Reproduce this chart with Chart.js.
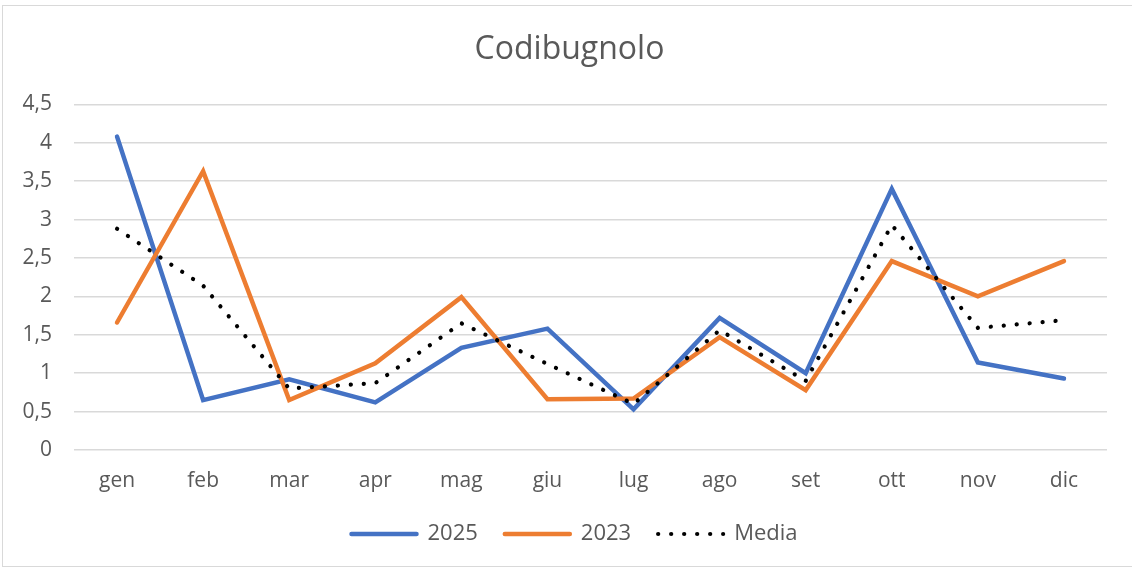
<!DOCTYPE html>
<html>
<head>
<meta charset="utf-8">
<script src="https://cdn.jsdelivr.net/npm/chart.js@4"></script>
<style>
  html, body { margin: 0; padding: 0; background: #fff; }
  #wrap { position: relative; width: 1132px; height: 571px; overflow: hidden; }
  #frame { position: absolute; left: 2px; top: 5px; width: 1140px; height: 562px; border: 1px solid #d9d9d9; box-sizing: border-box; }
  #chart { position: absolute; left: 0; top: 0; }
</style>
</head>
<body>
<div id="wrap">
  <div id="frame"></div>
  <canvas id="chart" width="1132" height="571"></canvas>
</div>
<script>
const months = ['gen', 'feb', 'mar', 'apr', 'mag', 'giu', 'lug', 'ago', 'set', 'ott', 'nov', 'dic'];
const values2025 = [4.08, 0.65, 0.92, 0.62, 1.33, 1.58, 0.53, 1.72, 1.0, 3.4, 1.14, 0.93];
const values2023 = [1.66, 3.63, 0.65, 1.13, 1.99, 0.66, 0.67, 1.47, 0.78, 2.46, 2.0, 2.46];
const valuesMedia = [2.88, 2.14, 0.8, 0.87, 1.65, 1.12, 0.6, 1.56, 0.9, 2.93, 1.59, 1.69];

const FONT = '"Open Sans", "Noto Sans", sans-serif';
const TEXT = '#595959';
const GRID = '#d9d9d9';
const DOTS = [0.1, 12.9];

const canvas = document.querySelector('#chart');
// eslint-disable-next-line no-undef
const baseLabels = Chart.defaults.plugins.legend.labels.generateLabels;

// Excel centres title and legend on the whole chart, not on the plot
const shiftBlocks = {
  id: 'shiftBlocks',
  afterLayout(chart) {
    if (chart.legend) {
      chart.legend.left += 21;
      chart.legend.right += 21;
    }
    if (chart.titleBlock) {
      chart.titleBlock.left += 16;
      chart.titleBlock.right += 16;
    }
  },
};

// eslint-disable-next-line no-undef
new Chart(canvas.getContext('2d'), {
  type: 'line',
  data: {
    labels: months,
    datasets: [
      {
        label: '2025',
        data: values2025,
        borderColor: '#4472c4',
        backgroundColor: '#4472c4',
        borderWidth: 4.5,
        borderCapStyle: 'round',
        pointRadius: 0,
        order: 2,
      },
      {
        label: '2023',
        data: values2023,
        borderColor: '#ed7d31',
        backgroundColor: '#ed7d31',
        borderWidth: 4.5,
        borderCapStyle: 'round',
        pointRadius: 0,
        order: 1,
      },
      {
        label: 'Media',
        data: valuesMedia,
        borderColor: '#000',
        backgroundColor: '#000',
        borderWidth: 4.2,
        borderCapStyle: 'round',
        borderDash: DOTS,
        pointRadius: 0,
        order: 0,
      },
    ],
  },
  plugins: [shiftBlocks],
  options: {
    responsive: false,
    animation: false,
    layout: { padding: { left: 0, right: 25, top: 0, bottom: 16 } },
    elements: { line: { tension: 0 } },
    scales: {
      x: {
        offset: true,
        grid: { display: false, drawTicks: false },
        border: { display: false },
        ticks: { color: TEXT, font: { family: FONT, size: 21 }, padding: 18 },
        afterFit: (scale) => { scale.height = 46; },
      },
      y: {
        min: 0,
        max: 4.5,
        grid: { color: GRID, lineWidth: 1.5, drawTicks: false },
        border: { display: false },
        ticks: {
          stepSize: 0.5,
          color: TEXT,
          font: { family: FONT, size: 21 },
          padding: 22,
          callback: (v) => String(v).replace('.', ','),
        },
        afterFit: (scale) => { scale.width = 74; },
      },
    },
    plugins: {
      title: {
        display: true,
        text: 'Codibugnolo',
        color: TEXT,
        font: { family: FONT, size: 32, weight: 'normal' },
        padding: { top: 31, bottom: 35 },
      },
      legend: {
        position: 'bottom',
        labels: {
          usePointStyle: true,
          pointStyle: 'line',
          pointStyleWidth: 65,
          boxHeight: 20,
          padding: 27,
          color: TEXT,
          font: { family: FONT, size: 22 },
          sort: (a, b) => a.datasetIndex - b.datasetIndex,
          generateLabels: (chart) => baseLabels(chart).map((item) => {
            const ds = chart.data.datasets[item.datasetIndex];
            item.lineDash = ds.borderDash || [];
            item.lineCap = 'round';
            item.lineWidth = ds.borderWidth;
            return item;
          }),
        },
      },
      tooltip: { enabled: false },
    },
  },
});
</script>
</body>
</html>
